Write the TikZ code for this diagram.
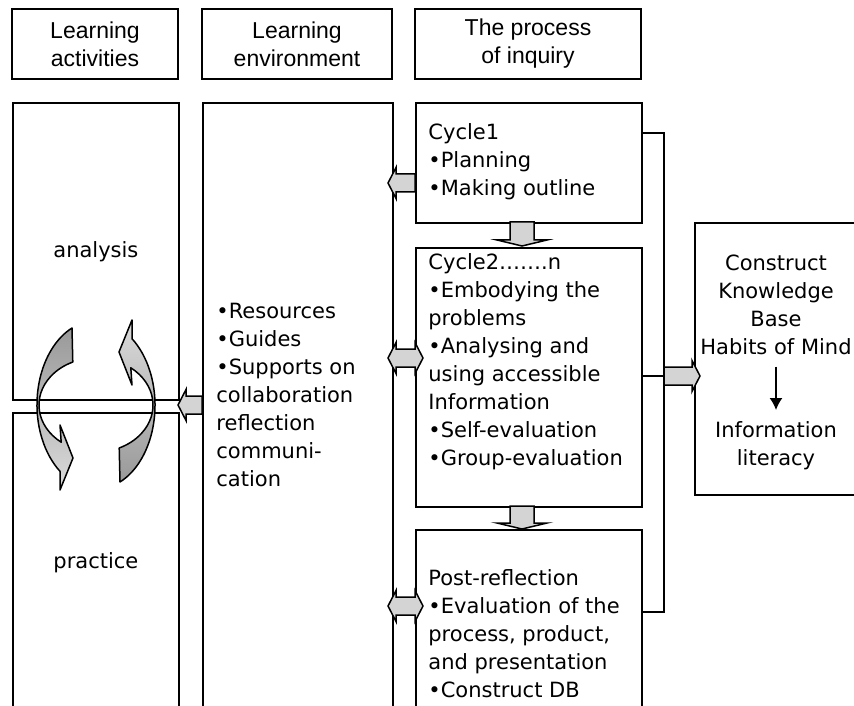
\documentclass[tikz,border=0pt]{standalone}
\usepackage{fontspec}
\setmainfont{DejaVu Sans}
\newfontfamily\headFont{Liberation Sans}
\usetikzlibrary{calc}
\usetikzlibrary{arrows.meta}
\definecolor{arrowGray}{gray}{0.83}
\definecolor{darkGray}{gray}{0.6}
\definecolor{lightGray}{gray}{0.86}

\begin{document}
\begin{tikzpicture}[x=0.5pt, y=-0.5pt]

          \tikzstyle{boxNode} = [draw, line width=0.9pt, inner sep=0pt, anchor=north west, font=\fontsize{10.5}{14}\selectfont];
          \tikzstyle{headNode} = [boxNode, anchor=center, minimum height=35pt, align=center, font=\headFont\fontsize{11.5}{14}\selectfont];
          \tikzstyle{textNode} = [inner sep=0pt, anchor=north west, align=left, font=\fontsize{10.5}{14}\selectfont];
          \tikzstyle{centerText} = [inner sep=0pt, anchor=north, align=center, font=\fontsize{10.5}{14}\selectfont];

          \tikzstyle{normalEdge} = [line width=0.9pt];
          \tikzstyle{loopArrow} = [line width=0.75pt, line join=round];
          \tikzstyle{blockH} = [fill=arrowGray, draw, line width=0.75pt, line join=miter,
            to path={let \p1=(\tikztostart), \p2=(\tikztotarget), \n1={4*sign(\x2-\x1)} in
              (\x1,\y1+4.5pt) -- ({\x2-\n1*1pt},\y1+4.5pt) -- ({\x2-\n1*1pt},\y1+7.75pt) -- (\x2,\y1)
              -- ({\x2-\n1*1pt},\y1-7.75pt) -- ({\x2-\n1*1pt},\y1-4.5pt) -- (\x1,\y1-4.5pt) -- cycle}];
          \tikzstyle{blockDouble} = [fill=arrowGray, draw, line width=0.75pt, line join=miter,
            to path={let \p1=(\tikztostart), \p2=(\tikztotarget), \n1={4*sign(\x2-\x1)} in
              (\x1,\y1) -- ({\x1+\n1*1pt},\y1+7.75pt) -- ({\x1+\n1*1pt},\y1+4.5pt) -- ({\x2-\n1*1pt},\y1+4.5pt)
              -- ({\x2-\n1*1pt},\y1+7.75pt) -- (\x2,\y1) -- ({\x2-\n1*1pt},\y1-7.75pt) -- ({\x2-\n1*1pt},\y1-4.5pt)
              -- ({\x1+\n1*1pt},\y1-4.5pt) -- ({\x1+\n1*1pt},\y1-7.75pt) -- cycle}];
          \tikzstyle{blockV} = [fill=arrowGray, draw, line width=0.75pt, line join=miter,
            to path={let \p1=(\tikztostart), \p2=(\tikztotarget), \n1={3*sign(\y2-\y1)} in
              (\x1-6pt,\y1) -- (\x1-6pt,{\y2-\n1*1pt}) -- (\x1-12.5pt,{\y2-\n1*1pt}) -- (\x1,\y2)
              -- (\x1+12.5pt,{\y2-\n1*1pt}) -- (\x1+6pt,{\y2-\n1*1pt}) -- (\x1+6pt,\y1) -- cycle}];

          \useasboundingbox (0,0) rectangle (854,705);

          % headings
          \node[headNode, minimum width=83pt] (hAct) at (95,44) {Learning\\activities};
          \node[headNode, minimum width=95pt] (hEnv) at (297,44) {Learning\\environment};
          \node[headNode, minimum width=113pt] (hInq) at (528,44) {The process\\of inquiry};

          % columns
          \node[boxNode, minimum width=83pt, minimum height=148.5pt] (analysis) at (12,102) {analysis};
          \node[boxNode, minimum width=83pt, minimum height=150pt] (practice) at (12,412) {practice};
          \node[boxNode, minimum width=95pt, minimum height=305pt] (env) at (202,102) {};
          \node[boxNode, minimum width=113pt, minimum height=60pt] (cyc1) at (415,102) {};
          \node[boxNode, minimum width=113pt, minimum height=129.5pt] (cyc2) at (415,247) {};
          \node[boxNode, minimum width=113pt, minimum height=91.5pt] (post) at (415,529) {};
          \node[boxNode, minimum width=81pt, minimum height=136pt] (kb) at (694,222) {};

          \node[textNode] (envText) at (216,303) {•Resources\\•Guides\\•Supports on\\collaboration\\reflection\\communi-\\cation};
          \node[textNode] (cyc1Text) at (428,123) {Cycle1\\•Planning\\•Making outline};
          \node[textNode] (cyc2Text) at (428,253) {Cycle2…….n\\•Embodying the\\problems\\•Analysing and\\using accessible\\Information\\•Self-evaluation\\•Group-evaluation};
          \node[textNode] (postText) at (428,569) {Post-reflection\\•Evaluation of the\\process, product,\\and presentation\\•Construct DB};
          \node[centerText] (kbText) at (776,255) {Construct\\Knowledge\\Base\\Habits of Mind};
          \node[centerText] (litText) at (776,421) {Information\\literacy};

          \draw[-{Latex[length=6pt,width=6.5pt]}, line width=0.75pt, shorten <=5.5pt, shorten >=5.5pt] (kbText) -- (litText);

          % lines on the right
          \coordinate (busTop) at (664,133);
          \coordinate (busMid) at (664,376);
          \coordinate (busBot) at (664,612);
          \draw[normalEdge] (cyc1.east |- busTop) -- (busTop) -- (busBot) -- (post.east |- busBot);
          \draw[normalEdge] (cyc2.east |- busMid) -- (busMid);

          % block arrows
          \coordinate (actIn) at (178,405);
          \coordinate (cyc1Out) at (388,183);
          \coordinate (envIn2) at (388,358);
          \coordinate (cyc2In) at (423,358);
          \coordinate (envIn3) at (388,606);
          \coordinate (postIn) at (423,606);
          \coordinate (kbIn) at (700,375);
          \coordinate (down1) at (522,222);
          \coordinate (down1End) at (522,246);
          \coordinate (down2) at (522,506);
          \coordinate (down2End) at (522,529);

          \draw[blockH] (env.west |- actIn) to (actIn);
          \draw[blockH] (cyc1.west |- cyc1Out) to (cyc1Out);
          \draw[blockDouble] (envIn2) to (cyc2In);
          \draw[blockDouble] (envIn3) to (postIn);
          \draw[blockH] (busMid) to (kbIn);
          \draw[blockV] (down1) to (down1End);
          \draw[blockV] (down2) to (down2End);

          % turning arrows
          \draw[loopArrow, top color=darkGray, bottom color=lightGray]
            (72,328) arc[start angle=246, end angle=127.6, x radius=59, y radius=84]
            -- (60,490) -- (73,458) -- (60,425) -- (61.2,442.2)
            arc[start angle=127.6, end angle=246, x radius=57, y radius=47] -- cycle;
          \draw[loopArrow, top color=lightGray, bottom color=darkGray]
            (120,482) arc[start angle=66, end angle=-52.4, x radius=59, y radius=84]
            -- (132,320) -- (119,352) -- (132,385) -- (130.8,367.8)
            arc[start angle=-52.4, end angle=66, x radius=57, y radius=47] -- cycle;
        \end{tikzpicture}
\end{document}
